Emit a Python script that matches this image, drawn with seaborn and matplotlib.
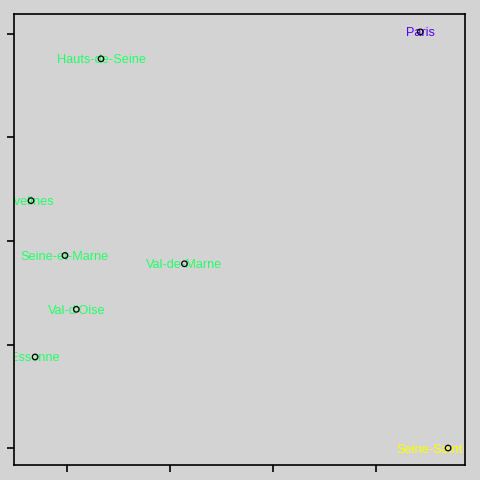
import numpy as np
import pandas as pd
import matplotlib
matplotlib.use("Agg")
import matplotlib.pyplot as plt
import seaborn as sns

# departments of Ile-de-France, positions
depts = ["Paris", "Hauts-de-Seine", "Yvelines", "Seine-et-Marne", "Val-de-Marne",
         "Val-d'Oise", "Essonne", "Seine-Saint-Denis"]
x_vals = [3.43, 0.33, -0.35, -0.02, 1.14, 0.09, -0.31, 3.70]
y_vals = [4.02, 3.76, 2.39, 1.86, 1.78, 1.34, 0.88, 0.00]
label_colors = ["#5500ff", "#22ff66", "#22ff66", "#22ff66", "#22ff66",
                "#22ff66", "#22ff66", "#ffff00"]

df = pd.DataFrame({"x": x_vals, "y": y_vals, "dept": depts, "col": label_colors})

sns.set_style("white")
plt.rcParams["font.family"] = ["Liberation Sans", "DejaVu Sans"]

fig = plt.figure(figsize=(4.8, 4.8), dpi=100, facecolor="lightgray")
ax = fig.add_axes([14 / 480, 15 / 480, 451 / 480, 451 / 480])
ax.set_facecolor("lightgray")

sns.scatterplot(data=df, x="x", y="y", ax=ax, s=16, marker="o",
                facecolor="none", edgecolor="black", linewidth=0.9, zorder=3)

# labels are centred on the points and clipped at the plot box
for _, r in df.iterrows():
    ax.text(r.x, r.y - 0.015, r.dept, color=r.col, fontsize=9.2,
            ha="center", va="center", clip_on=True, zorder=2)

ax.set_xlim(-0.515, 3.864)
ax.set_ylim(-0.164, 4.193)
ax.set_xticks([0, 1, 2, 3])
ax.set_yticks([0, 1, 2, 3, 4])
ax.set_xticklabels([])
ax.set_yticklabels([])
ax.set_xlabel("")
ax.set_ylabel("")
ax.tick_params(direction="out", length=5, width=1.2, color="black",
               bottom=True, left=True)
for sp in ax.spines.values():
    sp.set_color("black")
    sp.set_linewidth(1.2)

fig.savefig("out.png", dpi=100, facecolor="lightgray")
